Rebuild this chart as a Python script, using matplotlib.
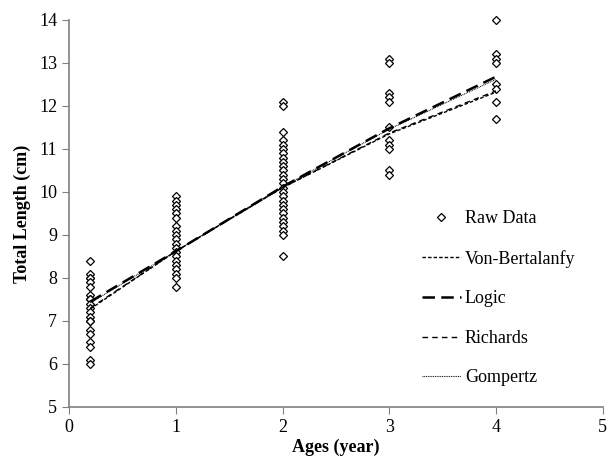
import matplotlib
matplotlib.use('Agg')
import matplotlib.pyplot as plt
import numpy as np

plt.rcParams['font.family'] = ['Liberation Serif', 'DejaVu Serif']

# raw observations (age in years, total length in cm)
age_02 = [8.4, 8.1, 8.0, 8.0, 7.9, 7.8, 7.6, 7.5, 7.5, 7.4, 7.3, 7.2, 7.1, 7.0, 7.0,
          6.8, 6.7, 6.5, 6.4, 6.1, 6.0]
age_1 = [9.9, 9.8, 9.7, 9.6, 9.5, 9.4, 9.2, 9.1, 9.0, 8.9, 8.8, 8.7, 8.6, 8.5, 8.4,
         8.3, 8.2, 8.1, 8.0, 7.8]
age_2 = [12.1, 12.0, 11.4, 11.2, 11.1, 11.0, 10.9, 10.8, 10.7, 10.6, 10.5, 10.4, 10.3,
         10.2, 10.1, 10.0, 9.9, 9.8, 9.7, 9.6, 9.5, 9.4, 9.3, 9.2, 9.1, 9.0, 8.5]
age_3 = [13.1, 13.0, 12.3, 12.2, 12.1, 11.5, 11.2, 11.1, 11.0, 10.5, 10.4]
age_4 = [14.0, 13.2, 13.1, 13.0, 12.5, 12.4, 12.1, 11.7]

raw_ages = [0.2, 1, 2, 3, 4]
raw_lengths = [age_02, age_1, age_2, age_3, age_4]

# fitted growth models
fit_ages = [0.2, 1, 2, 3, 4]
von_bertalanfy = [7.28, 8.62, 10.10, 11.35, 12.32]
logic = [7.45, 8.62, 10.12, 11.48, 12.68]
richards = [7.30, 8.62, 10.10, 11.37, 12.35]
gompertz = [7.42, 8.62, 10.12, 11.46, 12.62]

fig = plt.figure(figsize=(6.08, 4.63), dpi=100)
ax = fig.add_axes([0.1135, 0.121, 0.878, 0.836])

xs = np.concatenate([[a] * len(v) for a, v in zip(raw_ages, raw_lengths)])
ys = np.concatenate(raw_lengths)
ax.plot(xs, ys, linestyle='none', marker='D', markersize=4.0, markerfacecolor='white',
        markeredgecolor='black', markeredgewidth=0.9, label='Raw Data', clip_on=False)

ax.plot(fit_ages, von_bertalanfy, color='black', lw=1.0, dashes=(2.5, 1.5), label='Von-Bertalanfy')
ax.plot(fit_ages, logic, color='black', lw=1.8, dashes=(5, 2.5), label='Logic')
ax.plot(fit_ages, richards, color='black', lw=1.0, dashes=(4, 3), label='Richards')
ax.plot(fit_ages, gompertz, color='black', lw=0.8, dashes=(0.8, 0.8), label='Gompertz')

ax.set_xlim(0, 5)
ax.set_ylim(5, 14)
ax.set_xticks(range(0, 6))
ax.set_yticks(range(5, 15))
for s in ['top', 'right']:
    ax.spines[s].set_visible(False)
for s in ['left', 'bottom']:
    ax.spines[s].set_color('#808080')
    ax.spines[s].set_linewidth(1.2)
ax.tick_params(direction='out', length=5, color='#808080', labelsize=13)

ax.set_xlabel('Ages (year)', fontsize=13, fontweight='bold', labelpad=2)
ax.set_ylabel('Total Length (cm)', fontsize=13, fontweight='bold', labelpad=6)

ax.legend(loc='upper left', bbox_to_anchor=(0.63, 0.55), frameon=False, fontsize=13,
          handlelength=2.2, handletextpad=0.2, labelspacing=1.25)

fig.savefig('out.png', dpi=100)
